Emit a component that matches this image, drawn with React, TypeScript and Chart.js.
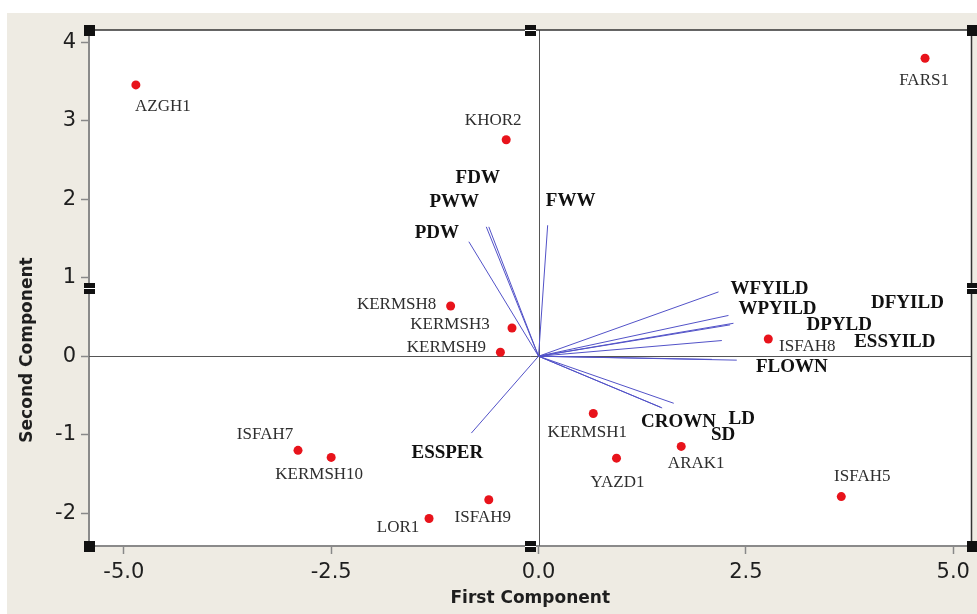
import React, { useEffect, useRef } from 'react';
import { Chart, registerables } from 'chart.js';

Chart.register(...registerables);

// Genotype scores (first and second principal components)
const genotypes = ['AZGH1', 'FARS1', 'KHOR2', 'KERMSH8', 'KERMSH3', 'KERMSH9', 'ISFAH8', 'KERMSH1', 'YAZD1', 'ARAK1', 'ISFAH5', 'ISFAH7', 'KERMSH10', 'LOR1', 'ISFAH9'];
const genoPC1 = [-4.855, 4.66, -0.39, -1.06, -0.32, -0.46, 2.77, 0.66, 0.94, 1.72, 3.65, -2.9, -2.5, -1.32, -0.6];
const genoPC2 = [3.46, 3.8, 2.76, 0.64, 0.36, 0.05, 0.22, -0.73, -1.3, -1.15, -1.79, -1.2, -1.29, -2.07, -1.83];

// Trait loading vectors
const traits = ['PDW', 'PWW', 'FDW', 'FWW', 'WFYILD', 'WPYILD', 'DFYILD', 'DPYLD', 'ESSYILD', 'FLOWN', '', 'CROWN', 'LD', 'SD', 'ESSPER'];
const traitPC1 = [-0.84, -0.63, -0.6, 0.11, 2.17, 2.29, 2.35, 2.31, 2.21, 2.39, 2.09, 1.47, 1.63, 1.49, -0.81];
const traitPC2 = [1.46, 1.65, 1.65, 1.67, 0.82, 0.52, 0.42, 0.4, 0.2, -0.05, -0.04, -0.65, -0.6, -0.66, -0.98];

// Tick values and labels
const xTicks = [-5, -2.5, 0, 2.5, 5];
const xTickLabels = ['-5.0', '-2.5', '0.0', '2.5', '5.0'];
const yTicks = [-2, -1, 0, 1, 2, 3, 4];
const yTickLabels = ['-2', '-1', '0', '1', '2', '3', '4'];

const xTitle = 'First Component';
const yTitle = 'Second Component';

// Label offsets (pixels, styling only)
const genoLabelDX = [27, -1, -13, -54, -62, -54, 39, -6, 1, 15, 21, -33, -12, -31, -6];
const genoLabelDY = [22, 22, -19, -2, -3, -5, 8, 19, 24, 17, -20, -16, 17, 9, 18];
const traitLabelDX = [-32, -32, -11, 23, 51, 49, 174, 109, 173, 55, 0, 18, 68, 61, -24];
const traitLabelDY = [-9, -25, -49, -24, -3, -6, -20, 0, 2, 7, 0, 15, 16, 27, 20];

const W = 977;
const H = 614;

export default function App() {
  const ref = useRef<HTMLCanvasElement | null>(null);

  useEffect(() => {
    const canvas = ref.current;
    if (!canvas) return;

    const decor = {
      id: 'decor',
      beforeDraw(chart: any) {
        const { ctx, chartArea: a } = chart;
        ctx.save();
        ctx.fillStyle = '#ffffff';
        ctx.fillRect(0, 0, W, H);
        ctx.fillStyle = '#eeebe3';
        ctx.fillRect(7, 13, W - 7, H - 13);
        ctx.fillStyle = '#ffffff';
        ctx.fillRect(a.left, a.top, a.right - a.left, a.bottom - a.top);
        ctx.restore();
      },
      beforeDatasetsDraw(chart: any) {
        const { ctx, chartArea: a, scales } = chart;
        const x0 = scales.x.getPixelForValue(0);
        const y0 = scales.y.getPixelForValue(0);
        ctx.save();
        ctx.strokeStyle = '#555555';
        ctx.lineWidth = 1;
        ctx.beginPath();
        ctx.moveTo(Math.round(x0) + 0.5, a.top);
        ctx.lineTo(Math.round(x0) + 0.5, a.bottom);
        ctx.moveTo(a.left, Math.round(y0) + 0.5);
        ctx.lineTo(a.right, Math.round(y0) + 0.5);
        ctx.stroke();
        ctx.restore();
      },
      afterDatasetsDraw(chart: any) {
        const { ctx, scales } = chart;
        ctx.save();
        ctx.textAlign = 'center';
        ctx.textBaseline = 'middle';
        ctx.fillStyle = '#2e2e2e';
        ctx.font = '17px "Liberation Serif"';
        genotypes.forEach((g, i) => {
          const px = scales.x.getPixelForValue(genoPC1[i]);
          const py = scales.y.getPixelForValue(genoPC2[i]);
          ctx.fillText(g, px + genoLabelDX[i], py + genoLabelDY[i]);
        });
        ctx.fillStyle = '#111111';
        ctx.font = 'bold 19px "Liberation Serif"';
        traits.forEach((t, i) => {
          if (!t) return;
          const px = scales.x.getPixelForValue(traitPC1[i]);
          const py = scales.y.getPixelForValue(traitPC2[i]);
          ctx.fillText(t, px + traitLabelDX[i], py + traitLabelDY[i]);
        });
        ctx.restore();
      },
      afterDraw(chart: any) {
        const { ctx, chartArea: a } = chart;
        ctx.save();
        // top & right frame
        ctx.strokeStyle = '#333333';
        ctx.lineWidth = 1.5;
        ctx.beginPath();
        ctx.moveTo(a.left, a.top);
        ctx.lineTo(a.right, a.top);
        ctx.lineTo(a.right, a.bottom);
        ctx.stroke();
        // selection handles
        const mx = (a.left + a.right) / 2;
        const my = (a.top + a.bottom) / 2;
        const pts: [number, number, boolean][] = [
          [a.left, a.top, false], [mx, a.top, true], [a.right, a.top, false],
          [a.left, my, true], [a.right, my, true],
          [a.left, a.bottom, false], [mx, a.bottom, true], [a.right, a.bottom, false],
        ];
        pts.forEach(([cx, cy, mid]) => {
          ctx.fillStyle = '#111111';
          ctx.fillRect(Math.round(cx) - 5, Math.round(cy) - 5, 11, 11);
          if (mid) {
            ctx.fillStyle = '#ffffff';
            ctx.fillRect(Math.round(cx) - 5, Math.round(cy), 11, 1);
          }
        });
        // y title
        ctx.translate(28, 350);
        ctx.rotate(-Math.PI / 2);
        ctx.fillStyle = '#1e1e1e';
        ctx.font = 'bold 17px "DejaVu Sans"';
        ctx.textAlign = 'center';
        ctx.textBaseline = 'middle';
        ctx.fillText(yTitle, 0, 0);
        ctx.restore();
      },
    };

    const datasets: any[] = [
      {
        label: 'genotypes',
        data: genotypes.map((_, i) => ({ x: genoPC1[i], y: genoPC2[i] })),
        pointRadius: 4.5,
        pointBackgroundColor: '#e8131b',
        pointBorderWidth: 0,
        showLine: false,
      },
      ...traits.map((t, i) => ({
        label: t || 'trait' + i,
        data: [{ x: 0, y: 0 }, { x: traitPC1[i], y: traitPC2[i] }],
        showLine: true,
        borderColor: '#5252c8',
        borderWidth: 1,
        pointRadius: 0,
        fill: false,
      })),
    ];

    const tickFont = { family: 'DejaVu Sans', size: 21 };

    const chart = new Chart(canvas, {
      type: 'scatter',
      data: { datasets },
      options: {
        animation: false,
        responsive: false,
        devicePixelRatio: 1,
        layout: { padding: { left: 7, right: 5.5, top: 30, bottom: 0 } },
        plugins: { legend: { display: false }, tooltip: { enabled: false } },
        scales: {
          x: {
            type: 'linear',
            min: -5.42,
            max: 5.22,
            afterBuildTicks: (s: any) => { s.ticks = xTicks.map((v) => ({ value: v })); },
            afterFit: (s: any) => { s.height = 68; },
            ticks: {
              autoSkip: false,
              maxRotation: 0,
              padding: 6,
              color: '#1e1e1e',
              font: tickFont,
              callback: (_v: any, i: number) => xTickLabels[i],
            },
            grid: { drawOnChartArea: false, drawTicks: true, tickLength: 8, tickColor: '#888888', tickWidth: 1.5 },
            border: { display: true, color: '#8a8a8a', width: 2 },
            title: {
              display: true,
              text: xTitle,
              color: '#1e1e1e',
              font: { family: 'DejaVu Sans', size: 17, weight: 'bold' },
              padding: { top: 0, bottom: 5 },
            },
          },
          y: {
            type: 'linear',
            min: -2.42,
            max: 4.16,
            afterBuildTicks: (s: any) => { s.ticks = yTicks.map((v) => ({ value: v })); },
            afterFit: (s: any) => { s.width = 82; },
            ticks: {
              autoSkip: false,
              padding: 5,
              color: '#1e1e1e',
              font: tickFont,
              callback: (_v: any, i: number) => yTickLabels[i],
            },
            grid: { drawOnChartArea: false, drawTicks: true, tickLength: 8, tickColor: '#888888', tickWidth: 1.5 },
            border: { display: true, color: '#8a8a8a', width: 2 },
            title: { display: false },
          },
        },
      },
      plugins: [decor],
    } as any);

    return () => chart.destroy();
  }, []);

  return (
    <div style={{ position: 'absolute', left: 0, top: 0, width: W, height: H }}>
      <canvas ref={ref} width={W} height={H} style={{ display: 'block', width: W, height: H }} />
    </div>
  );
}
